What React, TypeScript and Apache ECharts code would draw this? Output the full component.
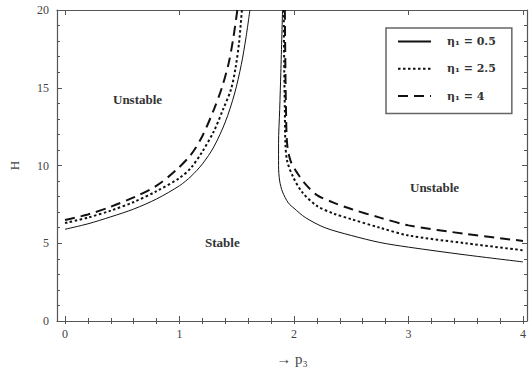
import { useEffect, useRef } from "react";
import * as echarts from "echarts";

const seriesNames = ["η₁ = 0.5", "η₁ = 2.5", "η₁ = 4"];
const xMajorTicks = [0, 1, 2, 3, 4];
const xMinorTicks = [0, 0.2, 0.4, 0.6, 0.8, 1, 1.2, 1.4, 1.6, 1.8, 2, 2.2, 2.4, 2.6, 2.8, 3, 3.2, 3.4, 3.6, 3.8, 4];

// left branch (x = p3, y = H)
const leftX1 = [0, 0.2, 0.4, 0.6, 0.8, 1.0, 1.1, 1.2, 1.3, 1.4, 1.48, 1.54, 1.58, 1.615];
const leftH1 = [5.9, 6.25, 6.7, 7.2, 7.85, 8.7, 9.3, 10.1, 11.2, 12.8, 14.6, 16.5, 18.2, 20];
const leftX2 = [0, 0.2, 0.4, 0.6, 0.8, 1.0, 1.1, 1.2, 1.3, 1.38, 1.45, 1.49, 1.52, 1.545];
const leftH2 = [6.3, 6.65, 7.1, 7.65, 8.35, 9.2, 9.85, 10.9, 12.2, 13.6, 14.9, 16.3, 17.9, 20];
const leftX3 = [0, 0.2, 0.4, 0.6, 0.8, 0.97, 1.1, 1.2, 1.3, 1.37, 1.43, 1.47, 1.505];
const leftH3 = [6.5, 6.85, 7.35, 7.95, 8.7, 9.7, 10.7, 11.9, 13.6, 15.0, 16.6, 18.2, 20];

// right branch
const rightX1 = [1.9, 1.885, 1.875, 1.865, 1.865, 1.875, 1.9, 1.95, 2.0, 2.1, 2.27, 2.5, 2.75, 3.0, 3.5, 4.0];
const rightH1 = [20, 16, 13.6, 11.4, 10.0, 9.0, 8.3, 7.6, 7.25, 6.65, 6.0, 5.5, 5.05, 4.75, 4.25, 3.8];
const rightX2 = [1.91, 1.915, 1.92, 1.925, 1.94, 1.99, 2.07, 2.2, 2.35, 2.5, 2.75, 3.0, 3.5, 4.0];
const rightH2 = [20, 16, 13.6, 11.4, 10.3, 9.3, 8.3, 7.4, 6.9, 6.55, 6.0, 5.5, 5.0, 4.55];
const rightX3 = [1.92, 1.925, 1.93, 1.94, 1.97, 2.03, 2.1, 2.2, 2.35, 2.5, 2.75, 3.0, 3.5, 4.0];
const rightH3 = [20, 16, 13.6, 11.4, 10.3, 9.5, 8.8, 8.1, 7.6, 7.2, 6.65, 6.15, 5.6, 5.15];

const regionLabels = ["Unstable", "Stable", "Unstable"];

const pairs = (xs: number[], ys: number[]) => xs.map((x, i) => [x, ys[i]]);

const lineStyles = [
  { color: "#111", width: 1, type: "solid" as any },
  { color: "#111", width: 2, type: [2.5, 2.5] as any },
  { color: "#111", width: 2, type: [10, 6] as any },
];

export default function App() {
  const ref = useRef<HTMLDivElement>(null);
  useEffect(() => {
    if (!ref.current) return;
    const chart = echarts.init(ref.current, undefined, { renderer: "svg" });
    const font = "Liberation Serif";
    const axisColor = "#555";
    const xMin = -0.07;
    const xMax = 4.035;
    const baseX = {
      type: "value",
      min: xMin,
      max: xMax,
      splitLine: { show: false },
      axisLine: { show: true, onZero: false, lineStyle: { color: axisColor, width: 1.2 } },
    };
    const lefts = [pairs(leftX1, leftH1), pairs(leftX2, leftH2), pairs(leftX3, leftH3)];
    const rights = [pairs(rightX1, rightH1), pairs(rightX2, rightH2), pairs(rightX3, rightH3)];
    const series: any[] = [];
    seriesNames.forEach((name, i) => {
      [lefts[i], rights[i]].forEach((data) => {
        series.push({
          type: "line",
          name,
          data,
          showSymbol: false,
          symbol: "none",
          smooth: 0.3,
          clip: true,
          lineStyle: lineStyles[i],
          itemStyle: { color: "#111" },
        });
      });
    });
    chart.setOption({
      animation: false,
      backgroundColor: "#fff",
      grid: { left: 52, top: 10, right: 5, bottom: 50 },
      xAxis: [
        {
          ...baseX,
          position: "bottom",
          name: "→ p₃",
          nameLocation: "middle",
          nameGap: 30,
          nameTextStyle: { fontFamily: font, fontSize: 15, color: "#444" },
          axisTick: { show: true, inside: true, length: 5, customValues: xMajorTicks, lineStyle: { color: axisColor } },
          axisLabel: { customValues: xMajorTicks, fontFamily: font, fontSize: 12, color: "#444", margin: 7 },
        },
        {
          ...baseX,
          position: "bottom",
          axisLine: { show: false },
          axisTick: { show: true, inside: true, length: 3, customValues: xMinorTicks, lineStyle: { color: axisColor } },
          axisLabel: { show: false },
        },
        {
          ...baseX,
          position: "top",
          axisTick: { show: true, inside: true, length: 5, customValues: xMajorTicks, lineStyle: { color: axisColor } },
          axisLabel: { show: false },
        },
        {
          ...baseX,
          position: "top",
          axisLine: { show: false },
          axisTick: { show: true, inside: true, length: 3, customValues: xMinorTicks, lineStyle: { color: axisColor } },
          axisLabel: { show: false },
        },
      ],
      yAxis: [
        {
          type: "value",
          min: 0,
          max: 20,
          interval: 5,
          position: "left",
          name: "H",
          nameLocation: "middle",
          nameGap: 36,
          nameTextStyle: { fontFamily: font, fontSize: 13, color: "#444" },
          splitLine: { show: false },
          axisLine: { show: true, onZero: false, lineStyle: { color: axisColor, width: 1.2 } },
          axisTick: { show: true, inside: true, length: 5, lineStyle: { color: axisColor } },
          minorTick: { show: true, splitNumber: 5, length: 3, lineStyle: { color: axisColor } },
          axisLabel: { fontFamily: font, fontSize: 12, color: "#444", margin: 8 },
        },
        {
          type: "value",
          min: 0,
          max: 20,
          interval: 5,
          position: "right",
          splitLine: { show: false },
          axisLine: { show: true, onZero: false, lineStyle: { color: axisColor, width: 1.2 } },
          axisTick: { show: true, inside: true, length: 5, lineStyle: { color: axisColor } },
          minorTick: { show: true, splitNumber: 5, length: 3, lineStyle: { color: axisColor } },
          axisLabel: { show: false },
        },
      ],
      legend: {
        orient: "vertical",
        left: 386,
        top: 28,
        data: seriesNames,
        padding: [8, 16, 12, 11],
        itemGap: 16,
        itemWidth: 33,
        itemHeight: 14,
        borderColor: "#666",
        borderWidth: 1.5,
        backgroundColor: "#fff",
        itemStyle: { color: "rgba(0,0,0,0)", borderColor: "rgba(0,0,0,0)", borderWidth: 0, opacity: 0 },
        lineStyle: { inactiveColor: "#111" },
        textStyle: { fontFamily: "DejaVu Serif", fontSize: 11, fontWeight: "bold", color: "#333", padding: [0, 0, 0, 11] },
      },
      graphic: [
        { type: "text", left: 113, top: 93, style: { text: regionLabels[0], font: "bold 13px 'Liberation Serif'", fill: "#333" } },
        { type: "text", left: 205, top: 236, style: { text: regionLabels[1], font: "bold 13px 'Liberation Serif'", fill: "#333" } },
        { type: "text", left: 410, top: 181, style: { text: regionLabels[2], font: "bold 13px 'Liberation Serif'", fill: "#333" } },
      ],
      series,
    });
    return () => chart.dispose();
  }, []);
  return <div ref={ref} style={{ position: "fixed", left: 0, top: 0, width: 532, height: 371 }} />;
}
